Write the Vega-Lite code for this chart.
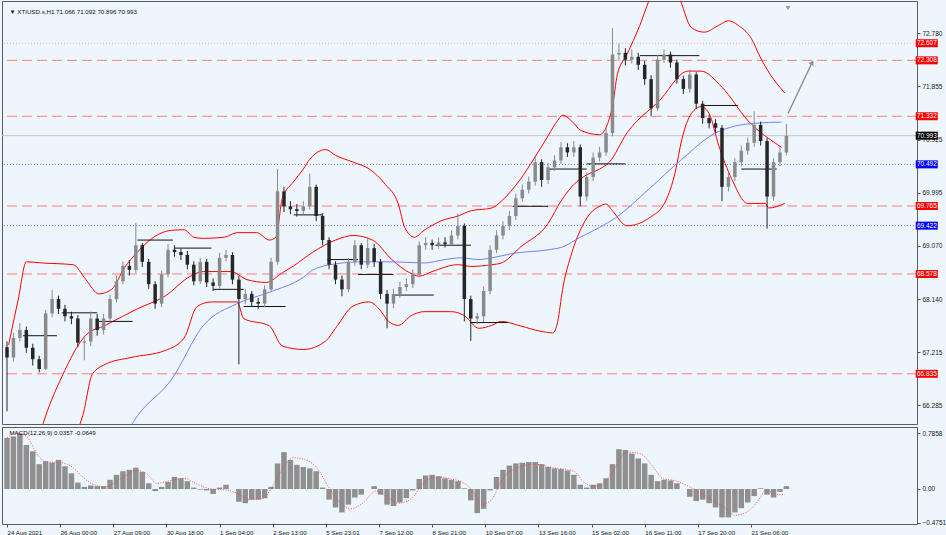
{
  "$schema": "https://vega.github.io/schema/vega-lite/v6.json",
  "background": "#eef6fd",
  "padding": {"left": 1, "top": 0, "right": 0, "bottom": 0},
  "spacing": 1,
  "config": {
    "font": "Liberation Sans",
    "view": {"stroke": "#5c5c5c", "fill": "#eef6fd"},
    "axis": {"labelFont": "Liberation Sans", "labelColor": "#1a1a1a", "tickColor": "#555555", "grid": false, "domain": false, "labelFontSize": 6.5, "tickSize": 3, "labelPadding": 2}
  },
  "datasets": {
    "candles": [
      {"t":0,"o":67.30,"h":67.40,"l":66.18,"c":67.12},{"t":4,"o":67.12,"h":67.55,"l":67.05,"c":67.46},{"t":8,"o":67.46,"h":67.72,"l":67.40,"c":67.60},{"t":12,"o":67.60,"h":67.66,"l":67.20,"c":67.29},{"t":16,"o":67.29,"h":67.36,"l":66.98,"c":67.09},{"t":20,"o":67.09,"h":67.15,"l":66.86,"c":66.92},{"t":24,"o":66.92,"h":67.95,"l":66.90,"c":67.89},{"t":28,"o":67.89,"h":68.30,"l":67.82,"c":68.14},{"t":32,"o":68.14,"h":68.20,"l":67.88,"c":67.97},{"t":36,"o":67.97,"h":68.04,"l":67.75,"c":67.84},
      {"t":40,"o":67.84,"h":67.92,"l":67.70,"c":67.80},{"t":44,"o":67.80,"h":67.86,"l":67.30,"c":67.38},{"t":48,"o":67.38,"h":67.50,"l":67.07,"c":67.40},{"t":52,"o":67.40,"h":67.92,"l":67.32,"c":67.80},{"t":56,"o":67.80,"h":67.88,"l":67.50,"c":67.60},{"t":60,"o":67.60,"h":67.88,"l":67.52,"c":67.80},{"t":64,"o":67.80,"h":68.22,"l":67.74,"c":68.14},{"t":68,"o":68.14,"h":68.55,"l":68.08,"c":68.45},{"t":72,"o":68.45,"h":68.80,"l":68.40,"c":68.72},{"t":76,"o":68.72,"h":68.82,"l":68.55,"c":68.65},
      {"t":80,"o":68.65,"h":69.47,"l":68.60,"c":69.08},{"t":84,"o":69.08,"h":69.12,"l":68.70,"c":68.79},{"t":88,"o":68.79,"h":68.84,"l":68.32,"c":68.40},{"t":92,"o":68.40,"h":68.45,"l":67.97,"c":68.06},{"t":96,"o":68.06,"h":68.64,"l":68.00,"c":68.57},{"t":100,"o":68.57,"h":69.10,"l":68.52,"c":69.00},{"t":104,"o":69.00,"h":69.08,"l":68.88,"c":68.96},{"t":108,"o":68.96,"h":69.02,"l":68.82,"c":68.91},{"t":112,"o":68.91,"h":68.98,"l":68.66,"c":68.74},{"t":116,"o":68.74,"h":68.80,"l":68.38,"c":68.45},
      {"t":120,"o":68.45,"h":68.86,"l":68.40,"c":68.79},{"t":124,"o":68.79,"h":68.84,"l":68.35,"c":68.43},{"t":128,"o":68.43,"h":68.50,"l":68.28,"c":68.37},{"t":132,"o":68.37,"h":68.95,"l":68.32,"c":68.86},{"t":136,"o":68.86,"h":69.00,"l":68.80,"c":68.91},{"t":140,"o":68.91,"h":68.96,"l":68.40,"c":68.48},{"t":144,"o":68.48,"h":68.55,"l":67.00,"c":68.14},{"t":148,"o":68.14,"h":68.32,"l":68.05,"c":68.23},{"t":152,"o":68.23,"h":68.28,"l":68.00,"c":68.09},{"t":156,"o":68.09,"h":68.16,"l":67.97,"c":68.06},
      {"t":160,"o":68.06,"h":68.38,"l":68.00,"c":68.31},{"t":164,"o":68.31,"h":68.86,"l":68.26,"c":68.79},{"t":168,"o":68.79,"h":70.41,"l":68.74,"c":70.02},{"t":172,"o":70.02,"h":70.10,"l":69.66,"c":69.76},{"t":176,"o":69.76,"h":69.85,"l":69.62,"c":69.71},{"t":180,"o":69.71,"h":69.80,"l":69.58,"c":69.68},{"t":184,"o":69.68,"h":69.85,"l":69.62,"c":69.76},{"t":188,"o":69.76,"h":70.33,"l":69.70,"c":70.10},{"t":192,"o":70.10,"h":70.14,"l":69.50,"c":69.59},{"t":196,"o":69.59,"h":69.64,"l":69.08,"c":69.17},
      {"t":200,"o":69.17,"h":69.22,"l":68.66,"c":68.74},{"t":204,"o":68.74,"h":68.80,"l":68.40,"c":68.48},{"t":208,"o":68.48,"h":68.55,"l":68.19,"c":68.31},{"t":212,"o":68.31,"h":68.86,"l":68.26,"c":68.79},{"t":216,"o":68.79,"h":69.17,"l":68.72,"c":69.08},{"t":220,"o":69.08,"h":69.12,"l":68.66,"c":68.74},{"t":224,"o":68.74,"h":69.22,"l":68.68,"c":69.03},{"t":228,"o":69.03,"h":69.10,"l":68.70,"c":68.79},{"t":232,"o":68.79,"h":68.84,"l":68.14,"c":68.23},{"t":236,"o":68.23,"h":68.30,"l":67.63,"c":68.06},
      {"t":240,"o":68.06,"h":68.32,"l":67.98,"c":68.23},{"t":244,"o":68.23,"h":68.44,"l":68.16,"c":68.35},{"t":248,"o":68.35,"h":68.50,"l":68.28,"c":68.40},{"t":252,"o":68.40,"h":68.66,"l":68.33,"c":68.57},{"t":256,"o":68.57,"h":69.15,"l":68.52,"c":69.08},{"t":260,"o":69.08,"h":69.22,"l":69.00,"c":69.12},{"t":264,"o":69.12,"h":69.18,"l":69.00,"c":69.08},{"t":268,"o":69.08,"h":69.22,"l":69.02,"c":69.13},{"t":272,"o":69.13,"h":69.22,"l":69.04,"c":69.10},{"t":276,"o":69.10,"h":69.34,"l":69.08,"c":69.25},
      {"t":280,"o":69.25,"h":69.63,"l":69.18,"c":69.42},{"t":284,"o":69.42,"h":69.46,"l":67.75,"c":68.14},{"t":288,"o":68.14,"h":68.20,"l":67.41,"c":67.80},{"t":292,"o":67.80,"h":67.90,"l":67.70,"c":67.84},{"t":296,"o":67.84,"h":68.36,"l":67.74,"c":68.28},{"t":300,"o":68.28,"h":69.08,"l":68.22,"c":69.00},{"t":304,"o":69.00,"h":69.34,"l":68.94,"c":69.25},{"t":308,"o":69.25,"h":69.50,"l":69.18,"c":69.42},{"t":312,"o":69.42,"h":69.68,"l":69.35,"c":69.59},{"t":316,"o":69.59,"h":69.98,"l":69.52,"c":69.90},
      {"t":320,"o":69.90,"h":70.14,"l":69.84,"c":70.05},{"t":324,"o":70.05,"h":70.28,"l":69.98,"c":70.19},{"t":328,"o":70.19,"h":70.62,"l":70.12,"c":70.53},{"t":332,"o":70.53,"h":70.58,"l":70.10,"c":70.22},{"t":336,"o":70.22,"h":70.52,"l":70.15,"c":70.44},{"t":340,"o":70.44,"h":70.65,"l":70.38,"c":70.56},{"t":344,"o":70.56,"h":70.88,"l":70.50,"c":70.79},{"t":348,"o":70.79,"h":70.86,"l":70.62,"c":70.70},{"t":352,"o":70.70,"h":70.90,"l":70.62,"c":70.79},{"t":356,"o":70.79,"h":70.84,"l":69.76,"c":69.93},
      {"t":360,"o":69.93,"h":70.35,"l":69.86,"c":70.27},{"t":364,"o":70.27,"h":70.70,"l":70.20,"c":70.61},{"t":368,"o":70.61,"h":70.80,"l":70.54,"c":70.70},{"t":372,"o":70.70,"h":71.14,"l":70.64,"c":71.04},{"t":376,"o":71.04,"h":72.87,"l":70.98,"c":72.41},{"t":380,"o":72.41,"h":72.60,"l":72.30,"c":72.44},{"t":384,"o":72.44,"h":72.52,"l":72.22,"c":72.32},{"t":388,"o":72.32,"h":72.50,"l":72.25,"c":72.37},{"t":392,"o":72.37,"h":72.44,"l":72.14,"c":72.23},{"t":396,"o":72.23,"h":72.30,"l":71.88,"c":71.98},
      {"t":400,"o":71.98,"h":72.05,"l":71.33,"c":71.47},{"t":404,"o":71.47,"h":72.40,"l":71.42,"c":72.32},{"t":408,"o":72.32,"h":72.50,"l":72.26,"c":72.41},{"t":412,"o":72.41,"h":72.46,"l":72.18,"c":72.27},{"t":416,"o":72.27,"h":72.32,"l":71.90,"c":71.98},{"t":420,"o":71.98,"h":72.04,"l":71.72,"c":71.81},{"t":424,"o":71.81,"h":72.14,"l":71.74,"c":72.06},{"t":428,"o":72.06,"h":72.10,"l":71.46,"c":71.55},{"t":432,"o":71.55,"h":71.60,"l":71.20,"c":71.30},{"t":436,"o":71.30,"h":71.36,"l":71.12,"c":71.21},
      {"t":440,"o":71.21,"h":71.28,"l":71.04,"c":71.13},{"t":444,"o":71.13,"h":71.18,"l":69.85,"c":70.10},{"t":448,"o":70.10,"h":70.36,"l":70.02,"c":70.27},{"t":452,"o":70.27,"h":70.60,"l":70.20,"c":70.53},{"t":456,"o":70.53,"h":70.82,"l":70.46,"c":70.73},{"t":460,"o":70.73,"h":70.96,"l":70.66,"c":70.87},{"t":464,"o":70.87,"h":71.42,"l":70.80,"c":71.18},{"t":468,"o":71.18,"h":71.24,"l":70.82,"c":70.90},{"t":472,"o":70.90,"h":70.95,"l":69.37,"c":69.93},{"t":476,"o":69.93,"h":70.60,"l":69.86,"c":70.53},
      {"t":480,"o":70.53,"h":70.80,"l":70.46,"c":70.70},{"t":484,"o":70.70,"h":71.20,"l":70.65,"c":70.99}
    ],
    "bands": [
      {"t":1,"v":67.34,"s":"up"},{"t":7,"v":68.14,"s":"up"},{"t":12,"v":68.79,"s":"up"},{"t":22,"v":68.77,"s":"up"},{"t":41,"v":68.74,"s":"up"},{"t":49,"v":68.48,"s":"up"},{"t":57,"v":68.23,"s":"up"},{"t":65,"v":68.31,"s":"up"},{"t":73,"v":68.69,"s":"up"},{"t":81,"v":68.96,"s":"up"},{"t":87,"v":69.13,"s":"up"},{"t":102,"v":69.34,"s":"up"},{"t":110,"v":69.35,"s":"up"},{"t":116,"v":69.22,"s":"up"},{"t":122,"v":69.20,"s":"up"},{"t":135,"v":69.22,"s":"up"},{"t":143,"v":69.30,"s":"up"},{"t":155,"v":69.30,"s":"up"},{"t":163,"v":69.17,"s":"up"},{"t":167,"v":69.22,"s":"up"},{"t":171,"v":69.90,"s":"up"},{"t":178,"v":70.19,"s":"up"},{"t":184,"v":70.41,"s":"up"},{"t":188,"v":70.58,"s":"up"},{"t":198,"v":70.75,"s":"up"},{"t":204,"v":70.65,"s":"up"},{"t":215,"v":70.53,"s":"up"},{"t":225,"v":70.41,"s":"up"},{"t":235,"v":70.14,"s":"up"},{"t":243,"v":69.80,"s":"up"},{"t":247,"v":69.39,"s":"up"},{"t":253,"v":69.22,"s":"up"},{"t":259,"v":69.34,"s":"up"},{"t":270,"v":69.51,"s":"up"},{"t":280,"v":69.59,"s":"up"},{"t":288,"v":69.68,"s":"up"},{"t":301,"v":69.73,"s":"up"},{"t":307,"v":69.85,"s":"up"},{"t":319,"v":70.24,"s":"up"},{"t":327,"v":70.58,"s":"up"},{"t":336,"v":70.99,"s":"up"},{"t":342,"v":71.26,"s":"up"},{"t":345,"v":71.35,"s":"up"},{"t":352,"v":71.21,"s":"up"},{"t":356,"v":71.09,"s":"up"},{"t":368,"v":71.01,"s":"up"},{"t":376,"v":71.50,"s":"up"},{"t":379,"v":72.06,"s":"up"},{"t":385,"v":72.41,"s":"up"},{"t":393,"v":72.92,"s":"up"},{"t":400,"v":73.43,"s":"up"},{"t":408,"v":73.68,"s":"up"},{"t":417,"v":73.43,"s":"up"},{"t":425,"v":72.88,"s":"up"},{"t":433,"v":72.80,"s":"up"},{"t":442,"v":72.92,"s":"up"},{"t":448,"v":73.00,"s":"up"},{"t":454,"v":72.92,"s":"up"},{"t":462,"v":72.70,"s":"up"},{"t":468,"v":72.35,"s":"up"},{"t":474,"v":72.06,"s":"up"},{"t":483,"v":71.74,"s":"up"},
      {"t":21,"v":65.84,"s":"mid"},{"t":24,"v":66.10,"s":"mid"},{"t":34,"v":66.78,"s":"mid"},{"t":49,"v":67.51,"s":"mid"},{"t":61,"v":67.68,"s":"mid"},{"t":81,"v":67.97,"s":"mid"},{"t":98,"v":68.19,"s":"mid"},{"t":114,"v":68.54,"s":"mid"},{"t":122,"v":68.62,"s":"mid"},{"t":139,"v":68.62,"s":"mid"},{"t":149,"v":68.48,"s":"mid"},{"t":161,"v":68.43,"s":"mid"},{"t":171,"v":68.60,"s":"mid"},{"t":178,"v":68.72,"s":"mid"},{"t":190,"v":68.96,"s":"mid"},{"t":204,"v":69.17,"s":"mid"},{"t":215,"v":69.25,"s":"mid"},{"t":227,"v":69.17,"s":"mid"},{"t":239,"v":68.83,"s":"mid"},{"t":250,"v":68.60,"s":"mid"},{"t":256,"v":68.54,"s":"mid"},{"t":264,"v":68.62,"s":"mid"},{"t":280,"v":68.74,"s":"mid"},{"t":288,"v":68.71,"s":"mid"},{"t":301,"v":68.74,"s":"mid"},{"t":307,"v":68.77,"s":"mid"},{"t":319,"v":69.05,"s":"mid"},{"t":336,"v":69.46,"s":"mid"},{"t":344,"v":69.85,"s":"mid"},{"t":352,"v":70.14,"s":"mid"},{"t":360,"v":70.31,"s":"mid"},{"t":368,"v":70.41,"s":"mid"},{"t":374,"v":70.53,"s":"mid"},{"t":385,"v":71.04,"s":"mid"},{"t":405,"v":71.60,"s":"mid"},{"t":423,"v":72.12,"s":"mid"},{"t":431,"v":72.12,"s":"mid"},{"t":444,"v":71.84,"s":"mid"},{"t":460,"v":71.26,"s":"mid"},{"t":481,"v":70.79,"s":"mid"},
      {"t":45,"v":65.93,"s":"lo"},{"t":47,"v":66.10,"s":"lo"},{"t":53,"v":66.83,"s":"lo"},{"t":61,"v":67.00,"s":"lo"},{"t":77,"v":67.12,"s":"lo"},{"t":98,"v":67.24,"s":"lo"},{"t":110,"v":67.46,"s":"lo"},{"t":118,"v":68.01,"s":"lo"},{"t":127,"v":68.09,"s":"lo"},{"t":143,"v":68.09,"s":"lo"},{"t":147,"v":67.80,"s":"lo"},{"t":163,"v":67.67,"s":"lo"},{"t":171,"v":67.32,"s":"lo"},{"t":184,"v":67.26,"s":"lo"},{"t":198,"v":67.41,"s":"lo"},{"t":204,"v":67.63,"s":"lo"},{"t":215,"v":68.02,"s":"lo"},{"t":225,"v":68.09,"s":"lo"},{"t":231,"v":67.97,"s":"lo"},{"t":237,"v":67.75,"s":"lo"},{"t":243,"v":67.68,"s":"lo"},{"t":251,"v":67.85,"s":"lo"},{"t":259,"v":67.92,"s":"lo"},{"t":276,"v":67.92,"s":"lo"},{"t":284,"v":67.85,"s":"lo"},{"t":293,"v":67.63,"s":"lo"},{"t":301,"v":67.68,"s":"lo"},{"t":307,"v":67.75,"s":"lo"},{"t":319,"v":67.67,"s":"lo"},{"t":331,"v":67.58,"s":"lo"},{"t":339,"v":67.55,"s":"lo"},{"t":342,"v":67.75,"s":"lo"},{"t":345,"v":68.31,"s":"lo"},{"t":350,"v":68.88,"s":"lo"},{"t":356,"v":69.34,"s":"lo"},{"t":362,"v":69.63,"s":"lo"},{"t":368,"v":69.76,"s":"lo"},{"t":372,"v":69.80,"s":"lo"},{"t":376,"v":69.68,"s":"lo"},{"t":385,"v":69.42,"s":"lo"},{"t":399,"v":69.56,"s":"lo"},{"t":409,"v":69.85,"s":"lo"},{"t":415,"v":70.36,"s":"lo"},{"t":419,"v":70.92,"s":"lo"},{"t":425,"v":71.38,"s":"lo"},{"t":431,"v":71.50,"s":"lo"},{"t":436,"v":71.38,"s":"lo"},{"t":442,"v":70.82,"s":"lo"},{"t":450,"v":70.24,"s":"lo"},{"t":460,"v":69.81,"s":"lo"},{"t":471,"v":69.81,"s":"lo"},{"t":473,"v":69.73,"s":"lo"},{"t":483,"v":69.81,"s":"lo"}
    ],
    "ma": [
      {"t":76,"v":65.89},{"t":81,"v":66.10},{"t":102,"v":66.73},{"t":122,"v":67.68},{"t":143,"v":68.06},{"t":163,"v":68.26},{"t":184,"v":68.52},{"t":190,"v":68.65},{"t":208,"v":68.77},{"t":219,"v":68.79},{"t":239,"v":68.79},{"t":259,"v":68.77},{"t":272,"v":68.83},{"t":282,"v":68.86},{"t":293,"v":68.83},{"t":301,"v":68.86},{"t":315,"v":68.94},{"t":336,"v":69.00},{"t":345,"v":69.05},{"t":356,"v":69.22},{"t":368,"v":69.39},{"t":378,"v":69.56},{"t":399,"v":70.07},{"t":419,"v":70.58},{"t":440,"v":71.04},{"t":452,"v":71.16},{"t":465,"v":71.21},{"t":481,"v":71.23}
    ],
    "pivots": [
      {"t":10,"t2":31,"p":67.50},{"t":34,"t2":56,"p":67.90},{"t":57,"t2":78,"p":67.75},{"t":81,"t2":103,"p":69.17},{"t":104,"t2":127,"p":69.03},{"t":128,"t2":147,"p":68.31},{"t":147,"t2":173,"p":68.01},{"t":178,"t2":196,"p":69.61},{"t":199,"t2":218,"p":68.83},{"t":218,"t2":240,"p":68.57},{"t":241,"t2":265,"p":68.21},{"t":266,"t2":288,"p":69.08},{"t":288,"t2":311,"p":67.73},{"t":314,"t2":336,"p":69.76},{"t":336,"t2":360,"p":70.41},{"t":360,"t2":384,"p":70.50},{"t":393,"t2":430,"p":72.39},{"t":431,"t2":454,"p":71.52},{"t":456,"t2":478,"p":70.41}
    ],
    "levels": [
      {"p":72.607,"k":"dotted-red"},{"p":72.308,"k":"dashed-red"},{"p":71.332,"k":"dashed-red"},{"p":70.993,"k":"current"},{"p":70.492,"k":"dotted-blue"},{"p":69.765,"k":"dashed-red"},{"p":69.422,"k":"dotted-blue"},{"p":68.578,"k":"dashed-red"},{"p":66.835,"k":"dashed-red"}
    ],
    "arrow": [{"t0":485,"p0":71.38,"t1":500,"p1":72.27}],
    "shift": [{"t":485,"p":73.22}],
    "headers": [{"panel":"price","label":"▼ XTIUSD.s,H1  71.066 71.092 70.896 70.993"},{"panel":"macd","label":"MACD(12,26,9) 0.0357 -0.0649"}],
    "macd": [
      {"t":0,"m":0.72},{"t":4,"m":0.74},{"t":8,"m":0.78},{"t":12,"m":0.62},{"t":16,"m":0.53},{"t":20,"m":0.35},{"t":24,"m":0.39},{"t":28,"m":0.37},{"t":32,"m":0.41},{"t":36,"m":0.32},{"t":40,"m":0.22},{"t":44,"m":0.09},{"t":48,"m":0.03},{"t":52,"m":0.05},{"t":56,"m":0.04},{"t":60,"m":0.04},{"t":64,"m":0.13},{"t":68,"m":0.2},{"t":72,"m":0.25},{"t":76,"m":0.27},{"t":80,"m":0.30},{"t":84,"m":0.24},{"t":88,"m":0.08},{"t":92,"m":-0.03},{"t":96,"m":0.03},{"t":100,"m":0.10},{"t":104,"m":0.17},{"t":108,"m":0.15},{"t":112,"m":0.11},{"t":116,"m":0.02},{"t":120,"m":-0.01},{"t":124,"m":-0.02},{"t":128,"m":-0.07},{"t":132,"m":0.02},{"t":136,"m":0.06},{"t":140,"m":0.0},{"t":144,"m":-0.18},{"t":148,"m":-0.2},{"t":152,"m":-0.15},{"t":156,"m":-0.15},{"t":160,"m":-0.13},{"t":164,"m":0.03},{"t":168,"m":0.36},{"t":172,"m":0.52},{"t":176,"m":0.41},{"t":180,"m":0.34},{"t":184,"m":0.31},{"t":188,"m":0.29},{"t":192,"m":0.25},{"t":196,"m":0.02},{"t":200,"m":-0.15},{"t":204,"m":-0.26},{"t":208,"m":-0.33},{"t":212,"m":-0.22},{"t":216,"m":-0.12},{"t":220,"m":-0.08},{"t":224,"m":0.0},{"t":228,"m":0.04},{"t":232,"m":-0.08},{"t":236,"m":-0.22},{"t":240,"m":-0.24},{"t":244,"m":-0.19},{"t":248,"m":-0.13},{"t":252,"m":-0.02},{"t":256,"m":0.14},{"t":260,"m":0.19},{"t":264,"m":0.2},{"t":268,"m":0.18},{"t":272,"m":0.15},{"t":276,"m":0.13},{"t":280,"m":0.11},{"t":284,"m":0.01},{"t":288,"m":-0.16},{"t":292,"m":-0.34},{"t":296,"m":-0.28},{"t":300,"m":-0.02},{"t":304,"m":0.17},{"t":308,"m":0.27},{"t":312,"m":0.33},{"t":316,"m":0.36},{"t":320,"m":0.37},{"t":324,"m":0.38},{"t":328,"m":0.38},{"t":332,"m":0.35},{"t":336,"m":0.31},{"t":340,"m":0.29},{"t":344,"m":0.28},{"t":348,"m":0.26},{"t":352,"m":0.2},{"t":356,"m":0.06},{"t":360,"m":0.02},{"t":364,"m":0.06},{"t":368,"m":0.08},{"t":372,"m":0.15},{"t":376,"m":0.35},{"t":380,"m":0.56},{"t":384,"m":0.55},{"t":388,"m":0.5},{"t":392,"m":0.43},{"t":396,"m":0.36},{"t":400,"m":0.2},{"t":404,"m":0.11},{"t":408,"m":0.13},{"t":412,"m":0.12},{"t":416,"m":0.08},{"t":420,"m":0.0},{"t":424,"m":-0.11},{"t":428,"m":-0.17},{"t":432,"m":-0.15},{"t":436,"m":-0.2},{"t":440,"m":-0.26},{"t":444,"m":-0.4},{"t":448,"m":-0.4},{"t":452,"m":-0.33},{"t":456,"m":-0.27},{"t":460,"m":-0.19},{"t":464,"m":-0.1},{"t":468,"m":0.01},{"t":472,"m":-0.08},{"t":476,"m":-0.12},{"t":480,"m":-0.04},{"t":484,"m":0.04}
    ],
    "signal": [
      {"t":0,"v":0.72},{"t":6,"v":0.79},{"t":12,"v":0.74},{"t":20,"v":0.45},{"t":26,"v":0.38},{"t":34,"v":0.37},{"t":41,"v":0.3},{"t":47,"v":0.17},{"t":53,"v":0.07},{"t":61,"v":0.03},{"t":71,"v":0.15},{"t":81,"v":0.26},{"t":87,"v":0.21},{"t":93,"v":0.08},{"t":102,"v":0.12},{"t":110,"v":0.15},{"t":118,"v":0.07},{"t":127,"v":0.0},{"t":135,"v":-0.01},{"t":143,"v":-0.06},{"t":151,"v":-0.15},{"t":159,"v":-0.13},{"t":163,"v":-0.03},{"t":171,"v":0.28},{"t":178,"v":0.44},{"t":184,"v":0.42},{"t":192,"v":0.31},{"t":200,"v":0.02},{"t":207,"v":-0.2},{"t":213,"v":-0.28},{"t":221,"v":-0.2},{"t":229,"v":-0.03},{"t":237,"v":-0.13},{"t":243,"v":-0.2},{"t":251,"v":-0.14},{"t":258,"v":0.07},{"t":266,"v":0.17},{"t":276,"v":0.14},{"t":284,"v":0.08},{"t":290,"v":-0.06},{"t":294,"v":-0.22},{"t":301,"v":-0.15},{"t":307,"v":0.12},{"t":317,"v":0.3},{"t":327,"v":0.35},{"t":339,"v":0.3},{"t":352,"v":0.25},{"t":358,"v":0.1},{"t":364,"v":0.04},{"t":368,"v":0.05},{"t":376,"v":0.24},{"t":385,"v":0.52},{"t":393,"v":0.5},{"t":401,"v":0.32},{"t":407,"v":0.15},{"t":416,"v":0.11},{"t":422,"v":0.05},{"t":428,"v":-0.02},{"t":438,"v":-0.16},{"t":446,"v":-0.27},{"t":452,"v":-0.37},{"t":459,"v":-0.33},{"t":467,"v":-0.15},{"t":471,"v":-0.02},{"t":479,"v":-0.08},{"t":483,"v":-0.08}
    ]
  },
  "vconcat": [
    {
      "width": 915,
      "height": 423,
      "layer": [
        {
          "data": {"name": "levels"},
          "mark": {"type": "rule", "strokeWidth": 1},
          "encoding": {
            "y": {"field": "p", "type": "quantitative", "title": null, "scale": {"domain": [66.046, 73.257], "nice": false, "zero": false},
                  "axis": {"orient": "right", "values": [66.285, 66.75, 67.215, 67.675, 68.14, 68.605, 69.07, 69.535, 69.995, 70.46, 70.925, 71.39, 71.855, 72.32, 72.78], "format": ".3f", "labelFontSize": 6.5, "tickSize": 3, "labelPadding": 2, "labelOverlap": false, "labelBound": false}},
            "color": {"field": "k", "type": "nominal", "legend": null, "scale": {"domain": ["dotted-red", "dashed-red", "current", "dotted-blue"], "range": ["#ffa0a0", "#ff7b7b", "#c4c4c4", "#6a6aff"]}},
            "strokeDash": {"field": "k", "type": "nominal", "legend": null, "scale": {"domain": ["dotted-red", "dashed-red", "current", "dotted-blue"], "range": [[1, 2], [10, 5], [1, 0], [1, 2]]}}
          }
        },
        {
          "data": {"name": "bands"},
          "mark": {"type": "line", "color": "#ff0000", "strokeWidth": 1, "clip": true, "interpolate": "monotone"},
          "encoding": {
            "x": {"field": "t", "type": "quantitative", "axis": null, "title": null, "scale": {"domain": [0, 562], "nice": false, "zero": false}},
            "y": {"field": "v", "type": "quantitative", "title": null},
            "detail": {"field": "s", "type": "nominal"}
          }
        },
        {
          "data": {"name": "ma"},
          "mark": {"type": "line", "color": "#6f6fff", "strokeWidth": 0.9, "clip": true, "interpolate": "monotone"},
          "encoding": {
            "x": {"field": "t", "type": "quantitative", "axis": null, "title": null},
            "y": {"field": "v", "type": "quantitative", "title": null}
          }
        },
        {
          "data": {"name": "pivots"},
          "mark": {"type": "rule", "color": "#111111", "strokeWidth": 1},
          "encoding": {
            "x": {"field": "t", "type": "quantitative", "axis": null, "title": null},
            "x2": {"field": "t2"},
            "y": {"field": "p", "type": "quantitative", "title": null}
          }
        },
        {
          "data": {"name": "candles"},
          "mark": {"type": "rule", "strokeWidth": 1, "clip": true},
          "encoding": {
            "x": {"field": "t", "type": "quantitative", "axis": null, "title": null},
            "y": {"field": "l", "type": "quantitative", "title": null},
            "y2": {"field": "h"},
            "color": {"condition": {"test": "datum.c >= datum.o", "value": "#8a8a8a"}, "value": "#262626"}
          }
        },
        {
          "data": {"name": "candles"},
          "mark": {"type": "bar", "size": 3.5, "clip": true},
          "encoding": {
            "x": {"field": "t", "type": "quantitative", "axis": null, "title": null},
            "y": {"field": "o", "type": "quantitative", "title": null},
            "y2": {"field": "c"},
            "color": {"condition": {"test": "datum.c >= datum.o", "value": "#8a8a8a"}, "value": "#262626"}
          }
        },
        {
          "data": {"name": "arrow"},
          "mark": {"type": "rule", "color": "#8c8c8c", "strokeWidth": 1.4},
          "encoding": {
            "x": {"field": "t0", "type": "quantitative", "axis": null, "title": null},
            "x2": {"field": "t1"},
            "y": {"field": "p0", "type": "quantitative", "title": null},
            "y2": {"field": "p1"}
          }
        },
        {
          "data": {"name": "arrow"},
          "mark": {"type": "point", "shape": "triangle-up", "angle": 26, "filled": true, "size": 30, "color": "#8c8c8c", "opacity": 1},
          "encoding": {
            "x": {"field": "t1", "type": "quantitative", "axis": null, "title": null},
            "y": {"field": "p1", "type": "quantitative", "title": null}
          }
        },
        {
          "data": {"name": "shift"},
          "mark": {"type": "point", "shape": "triangle-down", "filled": true, "size": 25, "color": "#9a9a9a", "opacity": 1},
          "encoding": {
            "x": {"field": "t", "type": "quantitative", "axis": null, "title": null},
            "y": {"field": "p", "type": "quantitative", "title": null}
          }
        },
        {
          "data": {"name": "headers"},
          "transform": [{"filter": "datum.panel == 'price'"}],
          "mark": {"type": "text", "align": "left", "baseline": "middle", "fontSize": 6.2, "font": "Liberation Sans", "color": "#111111"},
          "encoding": {
            "x": {"datum": 1.5, "type": "quantitative", "axis": null, "title": null},
            "y": {"datum": 73.155, "type": "quantitative", "title": null},
            "text": {"field": "label", "type": "nominal"}
          }
        },
        {
          "data": {"name": "levels"},
          "mark": {"type": "bar", "size": 8, "clip": false},
          "encoding": {
            "x": {"datum": 564.3, "type": "quantitative", "axis": null, "title": null},
            "x2": {"datum": 578},
            "y": {"field": "p", "type": "quantitative", "title": null},
            "color": {"field": "k", "type": "nominal", "legend": null, "scale": {"domain": ["dotted-red", "dashed-red", "current", "dotted-blue"], "range": ["#ff0000", "#ff0000", "#000000", "#0000ff"]}}
          }
        },
        {
          "data": {"name": "levels"},
          "mark": {"type": "text", "color": "#ffffff", "fontSize": 6.5, "align": "center", "baseline": "middle", "clip": false, "font": "Liberation Sans"},
          "encoding": {
            "x": {"datum": 571.2, "type": "quantitative", "axis": null, "title": null},
            "y": {"field": "p", "type": "quantitative", "title": null},
            "text": {"field": "p", "type": "quantitative", "format": ".3f"}
          }
        }
      ],
      "resolve": {"scale": {"color": "independent", "strokeDash": "independent"}}
    },
    {
      "width": 915,
      "height": 97,
      "layer": [
        {
          "data": {"name": "macd"},
          "mark": {"type": "bar", "size": 5.5, "color": "#8f8f8f"},
          "encoding": {
            "x": {"field": "t", "type": "quantitative", "title": null, "scale": {"domain": [0, 562], "nice": false, "zero": false},
                  "axis": {"orient": "bottom", "values": [0, 33, 66, 99, 132, 165, 198, 231, 264, 297, 330, 363, 396, 429, 462], "labelExpr": "['24 Aug 2021','26 Aug 00:00','27 Aug 09:00','30 Aug 18:00','1 Sep 04:00','2 Sep 13:00','5 Sep 23:01','7 Sep 12:00','8 Sep 21:00','10 Sep 07:00','13 Sep 16:00','15 Sep 02:00','16 Sep 11:00','17 Sep 20:00','21 Sep 06:00'][round(datum.value / 33)]", "labelAlign": "left", "labelFontSize": 6.2, "labelPadding": 2, "tickSize": 3, "labelOverlap": false, "labelFlush": false, "labelBound": false}},
            "y": {"field": "m", "type": "quantitative", "title": null, "scale": {"domain": [-0.493, 0.873], "nice": false, "zero": false},
                  "axis": {"orient": "right", "values": [0.7858, 0, -0.4751], "labelExpr": "datum.value == 0 ? '0.00' : format(datum.value, '.4f')", "labelFontSize": 6.5, "tickSize": 3, "labelPadding": 2, "labelOverlap": false, "labelBound": false}},
            "y2": {"datum": 0}
          }
        },
        {
          "data": {"name": "signal"},
          "mark": {"type": "line", "color": "#ff3a3a", "strokeWidth": 0.9, "strokeDash": [1, 1.5], "interpolate": "monotone"},
          "encoding": {
            "x": {"field": "t", "type": "quantitative", "title": null},
            "y": {"field": "v", "type": "quantitative", "title": null}
          }
        },
        {
          "data": {"name": "headers"},
          "transform": [{"filter": "datum.panel == 'macd'"}],
          "mark": {"type": "text", "align": "left", "baseline": "middle", "fontSize": 6.2, "font": "Liberation Sans", "color": "#111111"},
          "encoding": {
            "x": {"datum": 1.5, "type": "quantitative", "title": null},
            "y": {"datum": 0.79, "type": "quantitative", "title": null},
            "text": {"field": "label", "type": "nominal"}
          }
        }
      ]
    }
  ]
}
